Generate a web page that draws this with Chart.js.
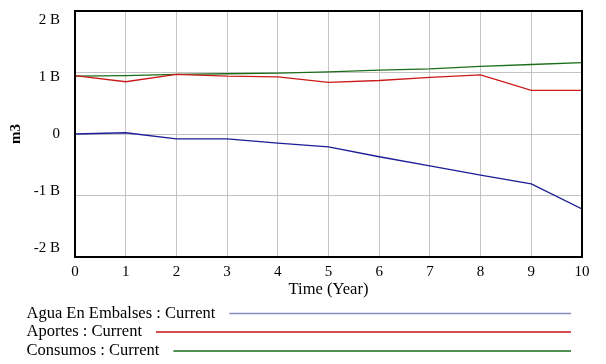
<!DOCTYPE html>
<html><head><meta charset="utf-8">
<script src="https://cdn.jsdelivr.net/npm/chart.js@4.4.1/dist/chart.umd.min.js"></script>
<style>html,body{margin:0;padding:0;background:#fff}#wrap{width:606px;height:364px;position:relative}</style>
</head><body><div id="wrap"><canvas id="c" width="606" height="364"></canvas></div>
<script>
// Time (Year)
const years = [0,1,2,3,4,5,6,7,8,9,10];
// values in billions of m3
const aguaEnEmbalses = [0, 0.02, -0.08, -0.08, -0.15, -0.21, -0.37, -0.52, -0.67, -0.81, -1.22];
const aportes = [0.95, 0.85, 0.97, 0.94, 0.93, 0.84, 0.87, 0.92, 0.96, 0.71, 0.71];
const consumos = [0.94, 0.95, 0.97, 0.98, 0.99, 1.01, 1.04, 1.06, 1.10, 1.13, 1.16];
const yTicks = [-2,-1,0,1,2];
const seriesNames = ["Agua En Embalses : Current","Aportes : Current","Consumos : Current"];
const colors = ["#1c1c96","#cc1a1a","#1a6e1a"];
const legendColors = ["#8a8ac8","#c41414","#186818"];

const FONT = "Liberation Serif";
const mk = arr => years.map((x,i)=>({x:x,y:arr[i]}));

const decor = {
  id:'decor',
  afterDraw(chart){
    const ctx = chart.ctx, a = chart.chartArea, ys = chart.scales.y;
    ctx.save();
    ctx.strokeStyle = '#000'; ctx.lineWidth = 2;
    ctx.strokeRect(a.left, a.top, a.right-a.left, a.bottom-a.top);
    ctx.fillStyle = '#000';
    // y tick labels (spread slightly inward as in the original)
    ctx.font = '15px "'+FONT+'"';
    ctx.textAlign = 'right'; ctx.textBaseline = 'middle';
    yTicks.forEach(v=>{
      const py = ys.getPixelForValue(v) + v*4.5;
      ctx.fillText(v===0 ? '0' : v+' B', 60, py);
    });
    ctx.textAlign = 'center';
    ctx.font = '16.5px "'+FONT+'"';
    ctx.fillText('Time (Year)', (a.left+a.right)/2, 290);
    ctx.save();
    ctx.translate(16, (a.top+a.bottom)/2);
    ctx.rotate(-Math.PI/2);
    ctx.font = 'bold 15px "'+FONT+'"';
    ctx.fillText('m3', 0, 0);
    ctx.restore();
    ctx.font = '16.5px "'+FONT+'"';
    ctx.textAlign = 'left';
    const ly = [313.5, 332, 351];
    seriesNames.forEach((n,i)=>{
      ctx.fillStyle = '#000';
      ctx.fillText(n, 26.5, ly[i]);
      const w = ctx.measureText(n).width;
      ctx.strokeStyle = legendColors[i]; ctx.lineWidth = 1.5;
      ctx.beginPath(); ctx.moveTo(26.5+w+14, ly[i]); ctx.lineTo(571, ly[i]); ctx.stroke();
    });
    ctx.restore();
  }
};

new Chart(document.getElementById('c'), {
  type:'line',
  data:{ datasets:[
    {label:seriesNames[0], data:mk(aguaEnEmbalses), borderColor:colors[0], borderWidth:1.3, pointRadius:0, tension:0},
    {label:seriesNames[1], data:mk(aportes), borderColor:colors[1], borderWidth:1.3, pointRadius:0, tension:0},
    {label:seriesNames[2], data:mk(consumos), borderColor:colors[2], borderWidth:1.3, pointRadius:0, tension:0}
  ]},
  options:{
    responsive:false, animation:false,
    layout:{padding:{top:11,right:24,bottom:0,left:0}},
    plugins:{legend:{display:false}, tooltip:{enabled:false}},
    scales:{
      x:{type:'linear', min:0, max:10,
        afterFit:s=>{s.height=107;},
        afterBuildTicks:s=>{s.ticks=years.map(v=>({value:v}));},
        grid:{color:'#c4c4c4', lineWidth:1, drawTicks:false},
        border:{display:false},
        ticks:{color:'#000', padding:6, font:{family:FONT,size:15}, maxRotation:0, autoSkip:false}
      },
      y:{min:-2, max:2,
        afterFit:s=>{s.width=75;},
        afterBuildTicks:s=>{s.ticks=yTicks.map(v=>({value:v}));},
        grid:{color:'#c4c4c4', lineWidth:1, drawTicks:false},
        border:{display:false},
        ticks:{display:false}
      }
    }
  },
  plugins:[decor]
});
</script></body></html>
